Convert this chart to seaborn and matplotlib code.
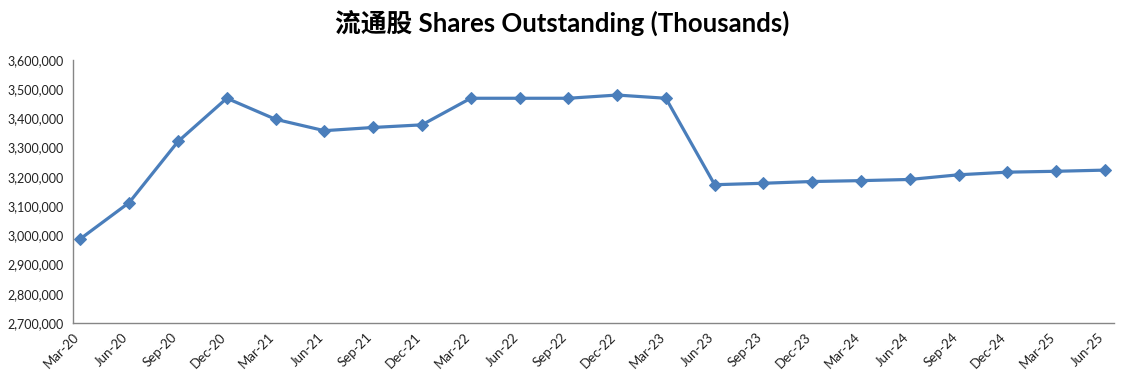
import numpy as np
import pandas as pd
import matplotlib
matplotlib.use("Agg")
import matplotlib.pyplot as plt
import seaborn as sns
from matplotlib.ticker import FuncFormatter

sns.set_theme(style="white")
plt.rcParams['font.family'] = ['Lato', 'Noto Sans CJK SC', 'DejaVu Sans']

# === data (thousands of shares) ===
quarters = ['Mar-20', 'Jun-20', 'Sep-20', 'Dec-20', 'Mar-21', 'Jun-21', 'Sep-21', 'Dec-21',
            'Mar-22', 'Jun-22', 'Sep-22', 'Dec-22', 'Mar-23', 'Jun-23', 'Sep-23', 'Dec-23',
            'Mar-24', 'Jun-24', 'Sep-24', 'Dec-24', 'Mar-25', 'Jun-25']
shares = [2988000, 3112000, 3321000, 3469000, 3397000, 3358000, 3369000, 3378000,
          3469000, 3469000, 3469000, 3480000, 3469000, 3173000, 3178000, 3184000,
          3187000, 3191000, 3207000, 3216000, 3219000, 3223000]
title = '流通股 Shares Outstanding (Thousands)'

df = pd.DataFrame({'quarter': quarters, 'shares': shares})
df['pos'] = np.arange(len(df)) + 0.15  # points sit a bit right of the tick (date axis look)

fig = plt.figure(figsize=(11.25, 3.75), dpi=100)
ax = fig.add_axes([0.065, 0.139, 0.925, 0.701])

sns.lineplot(data=df, x='pos', y='shares', ax=ax, color='#4a7ebb', linewidth=2.3,
             marker='D', markersize=6.5, markeredgecolor='#4a7ebb')

ax.set_ylim(2700000, 3600000)
ax.set_yticks(np.arange(2700000, 3600001, 100000))
ax.yaxis.set_major_formatter(FuncFormatter(lambda v, p: f'{v:,.0f}'))
ax.set_xlim(0, len(df) - 1 + 0.33)
ax.set_xticks(np.arange(len(df)))
ax.set_xticklabels(quarters, rotation=45, ha='right', rotation_mode='anchor')
ax.set_xlabel('')
ax.set_ylabel('')

for s in ['top', 'right']:
    ax.spines[s].set_visible(False)
for s in ['left', 'bottom']:
    ax.spines[s].set_color('#868686')
    ax.spines[s].set_linewidth(1.0)
ax.tick_params(axis='both', which='major', direction='out', length=4, width=1,
               color='#868686', labelcolor='#222222', pad=3)
ax.tick_params(axis='y', labelsize=9)
ax.tick_params(axis='x', labelsize=9.5, pad=2)

fig.text(0.5, 0.935, title, ha='center', va='center', fontsize=18.5, fontweight='bold',
         color='black')

fig.savefig('out.png', dpi=100)
